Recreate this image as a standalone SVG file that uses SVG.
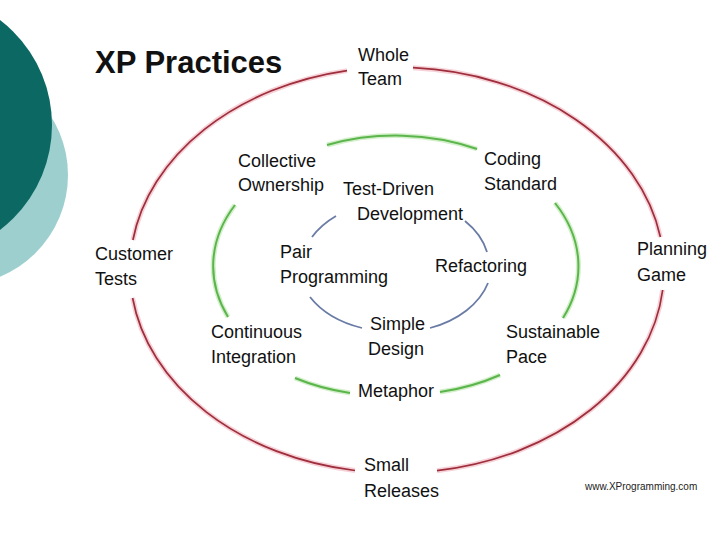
<svg xmlns="http://www.w3.org/2000/svg" width="720" height="540" viewBox="0 0 720 540">
<defs>
<style>
.lbl{font-family:"Liberation Sans",Arial,sans-serif;font-size:18px;fill:#111}
.title{font-family:"Liberation Sans",Arial,sans-serif;font-size:31px;font-weight:bold;fill:#111}
.url{font-family:"Liberation Sans",Arial,sans-serif;font-size:10px;fill:#222}
.red{fill:none;stroke:#9e2e3c;stroke-width:1.7}
.redg{fill:none;stroke:#f6d2d8;stroke-width:5}
.grn{fill:none;stroke:#5cb54c;stroke-width:2}
.grng{fill:none;stroke:#d3f0cb;stroke-width:5}
.blu{fill:none;stroke:#6a7ca6;stroke-width:1.8}
</style>
</defs>
<rect width="720" height="540" fill="#ffffff"/>
<g id="decor">
<circle cx="-42" cy="175" r="110" fill="#9ecfcf"/>
<circle cx="-80" cy="125" r="132" fill="#0b6862"/>
</g>
<text class="title" x="95" y="73">XP Practices</text>
<g id="connectors">
<g id="outer">
<path class="redg" d="M413,67.7 A267,203 0 0 1 660.4,237 M662.7,290 A267,203 0 0 1 437,470.7 M355,470.5 A267,203 0 0 1 132.6,298 M132.9,240 A267,203 0 0 1 347,70.6"/>
<path class="red" d="M413,67.7 A267,203 0 0 1 660.4,237 M662.7,290 A267,203 0 0 1 437,470.7 M355,470.5 A267,203 0 0 1 132.6,298 M132.9,240 A267,203 0 0 1 347,70.6"/>
</g>
<g id="middle">
<path class="grng" d="M327,145 A183,129 0 0 1 477,149 M555,203 A183,129 0 0 1 563,318 M500,375 A183,129 0 0 1 440,392 M350,393 A183,129 0 0 1 295,378 M228,317 A183,129 0 0 1 235,205"/>
<path class="grn" d="M327,145 A183,129 0 0 1 477,149 M555,203 A183,129 0 0 1 563,318 M500,375 A183,129 0 0 1 440,392 M350,393 A183,129 0 0 1 295,378 M228,317 A183,129 0 0 1 235,205"/>
</g>
<g id="inner">
<path class="blu" d="M312,237 A95,68 0 0 1 336,216 M465,221 A95,68 0 0 1 487,252 M488,283 A95,68 0 0 1 430,328 M362,328 A95,68 0 0 1 310,297"/>
</g>
</g>
<g id="whole-team"><text class="lbl" x="358" y="61">Whole</text><text class="lbl" x="358" y="85">Team</text></g>
<g id="collective-ownership"><text class="lbl" x="238" y="167">Collective</text><text class="lbl" x="238" y="191">Ownership</text></g>
<g id="coding-standard"><text class="lbl" x="484" y="165">Coding</text><text class="lbl" x="484" y="190">Standard</text></g>
<g id="tdd"><text class="lbl" x="343" y="195">Test-Driven</text><text class="lbl" x="357" y="220">Development</text></g>
<g id="customer-tests"><text class="lbl" x="95" y="260">Customer</text><text class="lbl" x="95" y="285">Tests</text></g>
<g id="pair-programming"><text class="lbl" x="280" y="258">Pair</text><text class="lbl" x="280" y="283">Programming</text></g>
<g id="refactoring"><text class="lbl" x="435" y="272">Refactoring</text></g>
<g id="planning-game"><text class="lbl" x="637" y="255">Planning</text><text class="lbl" x="637" y="281">Game</text></g>
<g id="continuous-integration"><text class="lbl" x="211" y="338">Continuous</text><text class="lbl" x="211" y="363">Integration</text></g>
<g id="simple-design"><text class="lbl" x="370" y="330">Simple</text><text class="lbl" x="368" y="355">Design</text></g>
<g id="sustainable-pace"><text class="lbl" x="506" y="338">Sustainable</text><text class="lbl" x="506" y="363">Pace</text></g>
<g id="metaphor"><text class="lbl" x="358" y="397">Metaphor</text></g>
<g id="small-releases"><text class="lbl" x="364" y="471">Small</text><text class="lbl" x="364" y="497">Releases</text></g>
<text class="url" x="585" y="490">www.XProgramming.com</text>
</svg>
